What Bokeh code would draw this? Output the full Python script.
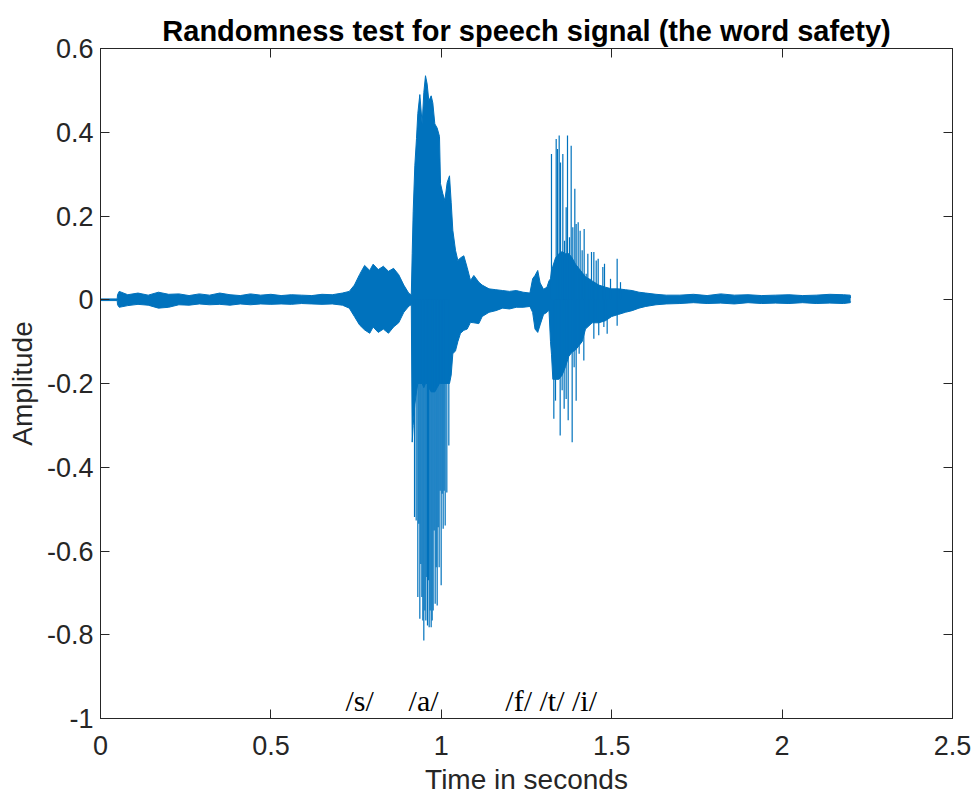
from bokeh.plotting import figure
from bokeh.models import Range1d, FixedTicker, LinearAxis, Label, ColumnDataSource
from bokeh.embed import file_html
from bokeh.resources import INLINE

# ---- data ----
# dense band of the waveform: time (s), upper and lower envelope
env_t = [0.0, 0.049, 0.050, 0.055, 0.08, 0.11, 0.14, 0.17, 0.20, 0.23, 0.26, 0.29, 0.32, 0.35, 0.38,
         0.41, 0.44, 0.47, 0.50, 0.53, 0.56, 0.59, 0.62, 0.65, 0.68, 0.71,
         0.73, 0.745, 0.76, 0.775, 0.79, 0.80, 0.815, 0.83, 0.845, 0.86, 0.875, 0.89, 0.905, 0.912,
         0.9146, 0.9175, 0.9223, 0.9272, 0.9311, 0.937, 0.9438, 0.9487, 0.9536, 0.9585, 0.9634,
         0.9703, 0.9751, 0.981, 0.9879, 0.9947, 0.9977, 1.0045, 1.0104, 1.0172, 1.0241, 1.029,
         1.0338, 1.0417, 1.0485, 1.0563, 1.0661, 1.0759, 1.0857, 1.0955, 1.1101,
         1.12, 1.14, 1.16, 1.18, 1.20, 1.22, 1.24, 1.26,
         1.268, 1.275, 1.283, 1.29, 1.30, 1.31, 1.316,
         1.3204, 1.3233, 1.3273, 1.3351, 1.3449, 1.3546, 1.3644, 1.3742, 1.384, 1.3938, 1.4036,
         1.4133, 1.4231, 1.4427, 1.4623, 1.4818,
         1.50, 1.52, 1.54, 1.56, 1.58, 1.60, 1.63, 1.66,
         1.70, 1.74, 1.78, 1.82, 1.86, 1.90, 1.94, 1.98, 2.02, 2.06, 2.10, 2.14, 2.18, 2.20, 2.201]
env_hi = [0.002, 0.002, 0.012, 0.02, 0.012, 0.016, 0.011, 0.018, 0.013, 0.014, 0.010, 0.014, 0.011, 0.016, 0.012,
          0.010, 0.014, 0.011, 0.013, 0.010, 0.012, 0.011, 0.010, 0.013, 0.012, 0.016,
          0.02, 0.035, 0.06, 0.082, 0.07, 0.085, 0.072, 0.08, 0.068, 0.075, 0.06, 0.035, 0.015, 0.012,
          0.11, 0.21, 0.32, 0.385, 0.445, 0.49, 0.42, 0.495, 0.535, 0.515, 0.475,
          0.487, 0.47, 0.42, 0.41, 0.39, 0.277, 0.253, 0.237, 0.28, 0.296, 0.233,
          0.166, 0.118, 0.094, 0.10, 0.105, 0.077, 0.046, 0.058, 0.042,
          0.035, 0.026, 0.024, 0.022, 0.02, 0.022, 0.018, 0.016,
          0.05, 0.058, 0.07, 0.04, 0.025, 0.03, 0.045,
          0.05, 0.07, 0.08, 0.10, 0.11, 0.115, 0.11, 0.11, 0.10, 0.085, 0.075,
          0.065, 0.055, 0.045, 0.035, 0.03,
          0.026, 0.026, 0.024, 0.022, 0.018, 0.016, 0.013, 0.011,
          0.011, 0.013, 0.010, 0.014, 0.011, 0.012, 0.010, 0.011, 0.012, 0.010, 0.011, 0.013, 0.012, 0.011, 0.004]
env_lo = [-0.002, -0.002, -0.012, -0.018, -0.014, -0.011, -0.013, -0.02, -0.018, -0.012, -0.013, -0.010, -0.012, -0.011, -0.013,
          -0.010, -0.012, -0.010, -0.011, -0.010, -0.011, -0.009, -0.010, -0.011, -0.010, -0.013,
          -0.02, -0.04, -0.06, -0.072, -0.08, -0.065, -0.078, -0.07, -0.08, -0.065, -0.055, -0.03, -0.015, -0.012,
          -0.34, -0.30, -0.25, -0.22, -0.20, -0.20, -0.20, -0.21, -0.20, -0.20, -0.21,
          -0.22, -0.22, -0.22, -0.21, -0.20, -0.20, -0.20, -0.20, -0.20, -0.20, -0.18,
          -0.129, -0.122, -0.10, -0.08, -0.073, -0.07, -0.054, -0.055, -0.057,
          -0.04, -0.03, -0.026, -0.02, -0.022, -0.018, -0.018, -0.016,
          -0.03, -0.07, -0.078, -0.06, -0.035, -0.03, -0.025,
          -0.10, -0.13, -0.19, -0.19, -0.19, -0.18, -0.16, -0.135, -0.125, -0.12, -0.11,
          -0.10, -0.07, -0.055, -0.055, -0.05,
          -0.04, -0.035, -0.03, -0.026, -0.02, -0.016, -0.012, -0.010,
          -0.009, -0.007, -0.009, -0.008, -0.010, -0.007, -0.009, -0.008, -0.009, -0.007, -0.009, -0.008, -0.009, -0.007, -0.004]

# individual pitch spikes that stand out of the dense band: time (s), peak amplitude
spike_t = [0.9214, 0.9263, 0.9311, 0.934, 0.937, 0.9399, 0.9429, 0.9458, 0.9487, 0.9517, 0.9546,
           0.9575, 0.9595, 0.9624, 0.9644, 0.9673, 0.9703, 0.9732, 0.9761, 0.9791, 0.982, 0.985,
           0.9879, 0.9908, 0.9937, 0.9967, 0.9996, 1.0026, 1.0055, 1.0084, 1.0114, 1.0162, 1.0221,
           1.3233, 1.3371, 1.341, 1.3459, 1.3498, 1.3566, 1.3615, 1.3664, 1.3703, 1.3762, 1.3811,
           1.3859, 1.3918, 1.3957, 1.4016, 1.4074, 1.4133, 1.4192, 1.4251, 1.4300, 1.4359, 1.4407,
           1.4476, 1.4545, 1.4603, 1.474, 1.4789, 1.4965, 1.516, 1.5258,
           1.3302, 1.3351, 1.3419, 1.3488, 1.3546, 1.3605, 1.3664, 1.3723, 1.384, 1.3898, 1.3957,
           1.4045, 1.4182, 1.4329, 1.4476, 1.4574, 1.462, 1.477, 1.4867, 1.516]
spike_v = [-0.519, -0.527, -0.71, -0.535, -0.762, -0.631, -0.71, -0.766, -0.814, -0.742, -0.766,
           -0.662, -0.778, -0.67, -0.782, -0.742, -0.782, -0.766, -0.742, -0.551, -0.726, -0.639,
           -0.73, -0.543, -0.639, -0.456, -0.682, -0.463, -0.547, -0.456, -0.539, -0.46, -0.348,
           0.348, 0.384, 0.36, 0.392, 0.328, 0.348, 0.141, 0.221, 0.392, 0.149, 0.368,
           0.173, 0.265, 0.181, 0.185, 0.165, 0.118, 0.169, 0.062, 0.11, 0.05, 0.114,
           0.114, 0.094, 0.098, 0.078, 0.086, 0.05, 0.098, 0.042,
           -0.284, -0.241, -0.177, -0.324, -0.216, -0.26, -0.237, -0.288, -0.34, -0.161, -0.241,
           -0.129, -0.145, -0.058, -0.093, -0.046, -0.085, -0.065, -0.081, -0.062]

x_ticks = [0, 0.5, 1, 1.5, 2, 2.5]
x_tick_labels = ["0", "0.5", "1", "1.5", "2", "2.5"]
y_ticks = [-1, -0.8, -0.6, -0.4, -0.2, 0, 0.2, 0.4, 0.6]
y_tick_labels = ["-1", "-0.8", "-0.6", "-0.4", "-0.2", "0", "0.2", "0.4", "0.6"]

phonemes = ["/s/", "/a/", "/f/ /t/ /i/"]
phoneme_t = [0.719, 0.904, 1.188]
phoneme_y = -0.957

title_text = "Randomness test for speech signal (the word safety)"
x_label = "Time in seconds"
y_label = "Amplitude"

# ---- figure ----
SIG = "#0072BD"
AX = "#262626"
FONT = "Liberation Sans"

p = figure(width=973, height=800, output_backend="svg", toolbar_location=None,
           x_range=Range1d(0, 2.5), y_range=Range1d(-1, 0.6),
           min_border_left=100, min_border_right=21, min_border_top=48, min_border_bottom=82)
p.grid.visible = False
p.outline_line_color = AX
p.background_fill_color = "white"
p.border_fill_color = "white"

p.title.text = title_text
p.title.align = "center"
p.title.text_font = FONT
p.title.text_font_style = "bold"
p.title.text_font_size = "29px"
p.title.text_color = "black"
p.title.standoff = 4
p.title.offset = 0

env = ColumnDataSource(dict(t=env_t, hi=env_hi, lo=env_lo))
p.varea(x="t", y1="lo", y2="hi", source=env, fill_color=SIG)
p.line(x="t", y="hi", source=env, line_color=SIG, line_width=1)
p.line(x="t", y="lo", source=env, line_color=SIG, line_width=1)

spk = ColumnDataSource(dict(t=spike_t, v=spike_v, z=[0] * len(spike_t)))
p.segment(x0="t", y0="z", x1="t", y1="v", source=spk, line_color=SIG, line_width=1.2)

def style(ax, ticks, labels, show):
    ax.ticker = FixedTicker(ticks=ticks)
    ax.minor_tick_line_color = None
    ax.axis_line_color = AX
    ax.major_tick_line_color = AX
    ax.major_tick_in = 9
    ax.major_tick_out = 0
    ax.major_label_text_font = FONT
    ax.major_label_text_color = AX
    ax.major_label_text_font_size = "27px"
    if show:
        ax.major_label_overrides = dict(zip(ticks, labels))
    else:
        ax.major_label_overrides = {t: "" for t in ticks}
        ax.major_label_standoff = 0

style(p.xaxis[0], x_ticks, x_tick_labels, True)
style(p.yaxis[0], y_ticks, y_tick_labels, True)
p.xaxis[0].major_label_standoff = 17
p.yaxis[0].major_label_standoff = 7

xa = p.xaxis[0]
xa.axis_label = x_label
xa.axis_label_text_font = FONT
xa.axis_label_text_font_size = "28px"
xa.axis_label_text_font_style = "normal"
xa.axis_label_text_color = AX
xa.axis_label_standoff = 6

ya = p.yaxis[0]
ya.axis_label = y_label
ya.axis_label_text_font = FONT
ya.axis_label_text_font_size = "28px"
ya.axis_label_text_font_style = "normal"
ya.axis_label_text_color = AX
ya.axis_label_standoff = 6

top = LinearAxis()
right = LinearAxis()
style(top, x_ticks, x_tick_labels, False)
style(right, y_ticks, y_tick_labels, False)
p.add_layout(top, "above")
p.add_layout(right, "right")

for s, t in zip(phonemes, phoneme_t):
    p.add_layout(Label(x=t, y=phoneme_y, text=s, text_font="Liberation Serif",
                       text_font_size="30px", text_align="left", text_baseline="alphabetic",
                       text_color="black"))

open("out.html", "w").write(file_html(p, INLINE))
